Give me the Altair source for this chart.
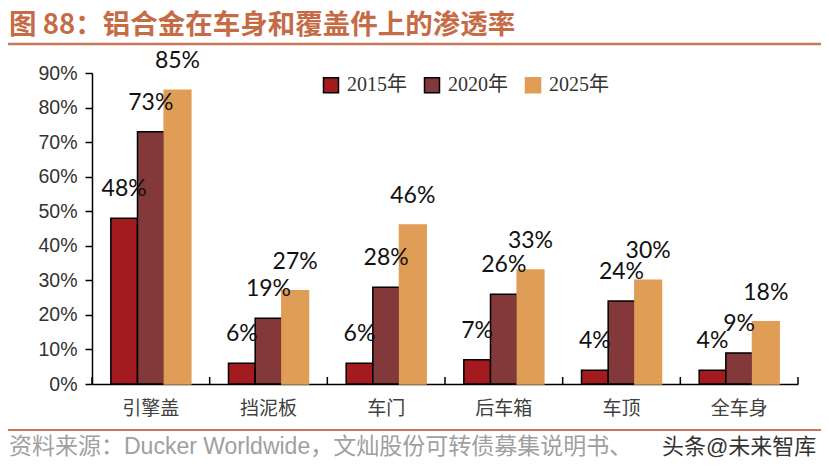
import altair as alt
import pandas as pd

categories = ['引擎盖', '挡泥板', '车门', '后车箱', '车顶', '全车身']
years = ['2015年', '2020年', '2025年']
v2015 = [48, 6, 6, 7, 4, 4]
v2020 = [73, 19, 28, 26, 24, 9]
v2025 = [85, 27, 46, 33, 30, 18]
colors = ['#A31B1E', '#83393A', '#DF9D56']
strokes = ['#000000', '#000000', '#DF9D56']
y_ticks = [0, 10, 20, 30, 40, 50, 60, 70, 80, 90]

title_text = '图 88：铝合金在车身和覆盖件上的渗透率'
source_text = '资料来源：Ducker Worldwide，文灿股份可转债募集说明书、'
watermark_text = '头条@未来智库'

rows = []
for yr, vals in zip(years, [v2015, v2020, v2025]):
    for c, v in zip(categories, vals):
        rows.append({'cat': c, 'year': yr, 'value': v, 'label': f'{v}%'})
df = pd.DataFrame(rows)

W, H = 706, 311
CJK = 'Noto Sans CJK SC'

x_axis = alt.Axis(title=None, labelAngle=0, ticks=False,
                  domainColor='#000000', domainWidth=1.5,
                  labelFont=CJK, labelFontSize=19, labelColor='#404040',
                  labelPadding=15)
x_scale = alt.Scale(paddingInner=0, paddingOuter=0)
y_axis = alt.Axis(title=None, values=y_ticks, grid=False,
                  labelOverlap=False, labelFlush=False,
                  labelExpr="datum.value + '%'",
                  domainColor='#000000', domainWidth=1.5,
                  tickColor='#000000', tickWidth=1.5, tickSize=7,
                  labelPadding=8, labelFont='Liberation Sans',
                  labelFontSize=19.5, labelColor='#333333')
y_scale = alt.Scale(domain=[0, 90])

x_enc = alt.X('cat:N', sort=categories, scale=x_scale, axis=x_axis)
xo_enc = alt.XOffset('year:N', sort=years,
                     scale=alt.Scale(paddingOuter=0.706, paddingInner=0))
y_enc = alt.Y('value:Q', scale=y_scale, axis=y_axis)

base = alt.Chart(df)
bars = base.mark_bar(strokeWidth=1.5).encode(
    x=x_enc, xOffset=xo_enc, y=y_enc,
    color=alt.Color('year:N', sort=years, scale=alt.Scale(domain=years, range=colors),
                    legend=alt.Legend(title=None)),
    stroke=alt.Stroke('year:N', sort=years, scale=alt.Scale(domain=years, range=strokes),
                      legend=alt.Legend(title=None)),
)
labels = base.mark_text(font='Lato', fontSize=23, color='#111111',
                        baseline='alphabetic', dy=-22).encode(
    x=x_enc, xOffset=xo_enc, y=y_enc, text='label:N')

tick_df = pd.DataFrame({'cat': categories})
ticks = alt.Chart(tick_df).mark_rule(color='#000000', strokeWidth=1.5).encode(
    x=alt.X('cat:N', sort=categories, bandPosition=0, scale=x_scale, axis=x_axis),
    y=alt.value(H), y2=alt.value(H - 7))
end_tick = alt.Chart(tick_df.head(1)).mark_rule(color='#000000', strokeWidth=1.5).encode(
    x=alt.value(W), y=alt.value(H), y2=alt.value(H - 7))

line_color = '#C8785A'
title = alt.Chart(pd.DataFrame({'t': [title_text]})).mark_text(
    font=CJK, fontSize=27.5, fontWeight='bold', color='#C56B45',
    align='left', baseline='middle').encode(
    text='t:N', x=alt.value(-83), y=alt.value(-47))
top_line = alt.Chart(tick_df.head(1)).mark_rule(color=line_color, strokeWidth=2.5).encode(
    x=alt.value(-85), x2=alt.value(740), y=alt.value(-29))
bottom_line = alt.Chart(tick_df.head(1)).mark_rule(color=line_color, strokeWidth=2).encode(
    x=alt.value(-85), x2=alt.value(740), y=alt.value(357))

src_y = 374
src = alt.Chart(pd.DataFrame({'t': [source_text]})).mark_text(
    font='Liberation Sans, ' + CJK, fontSize=23, color='#A0A0A0',
    align='left', baseline='middle').encode(
    text='t:N', x=alt.value(-83), y=alt.value(src_y))
wm = alt.Chart(pd.DataFrame({'t': [watermark_text]})).mark_text(
    font='Liberation Sans, ' + CJK, fontSize=22, color='#333333',
    align='left', baseline='middle').encode(
    text='t:N', x=alt.value(570), y=alt.value(src_y))

chart = alt.layer(
    bars, labels, ticks, end_tick, title, top_line, bottom_line, src, wm
).properties(
    width=W, height=H,
    padding={'left': 84, 'top': 65, 'right': 23, 'bottom': 81},
    autosize=alt.AutoSizeParams(type='none'),
).configure_view(stroke=None).configure_legend(
    orient='none', legendX=229, legendY=2, direction='horizontal',
    padding=0, columnPadding=14, symbolType='square', symbolSize=225,
    symbolStrokeWidth=1.5, labelOffset=6,
    labelFont='Liberation Serif, ' + CJK, labelFontSize=20, labelColor='#333333',
)

chart.save('out.html', embed_options={'renderer': 'svg', 'actions': False})
